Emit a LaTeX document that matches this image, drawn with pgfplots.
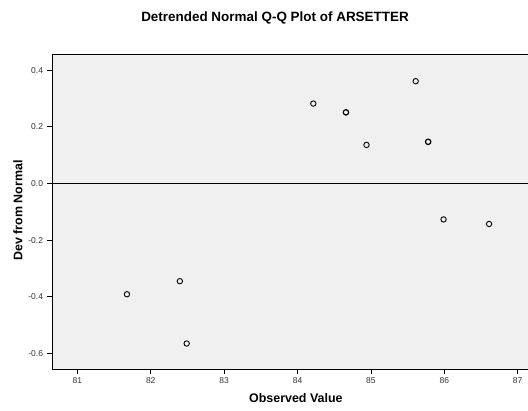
\documentclass[border=0pt]{standalone}
\usepackage{fontspec}
\setmainfont{Liberation Sans}
\usepackage{pgfplots}
\pgfplotsset{compat=1.18}
\definecolor{bgc}{HTML}{F0F0F0}
\definecolor{tickc}{HTML}{333333}
\begin{document}
\begin{tikzpicture}[x=1bp,y=1bp]
\path[use as bounding box] (0,0) rectangle (528,410);
\begin{axis}[
  at={(52bp,41bp)}, anchor=south west,
  scale only axis, width=480bp, height=315bp,
  xmin=80.655, xmax=87.195, ymin=-0.655, ymax=0.457,
  axis background/.style={fill=bgc},
  axis line style={line width=1bp, black},
  xtick={81,82,83,84,85,86,87},
  ytick={-0.6,-0.4,-0.2,0,0.2,0.4},
  yticklabels={-0.6,-0.4,-0.2,0.0,0.2,0.4},
  xtick pos=bottom, ytick pos=left,
  tick align=outside,
  major tick length=5bp,
  every tick/.style={black, line width=0.8bp},
  /pgf/number format/assume math mode=true,
  ticklabel style={font=\fontsize{8.5}{9}\selectfont, text=tickc},
  xticklabel style={yshift=-0.5bp},
  yticklabel style={xshift=-0.5bp},
  title={Detrended Normal Q-Q Plot of ARSETTER},
  title style={font=\bfseries\fontsize{13.5}{15}\selectfont, at={(axis description cs:0.4646,1.095)}, anchor=center},
  xlabel={Observed Value},
  xlabel style={font=\bfseries\fontsize{12.5}{14}\selectfont, at={(axis description cs:0.508,-0.092)}, anchor=center},
  ylabel={Dev from Normal},
  ylabel style={font=\bfseries\fontsize{12.5}{14}\selectfont, at={(axis description cs:-0.0708,0.503)}, anchor=center, rotate=0},
  clip=false,
]
\addplot[black, line width=1bp, forget plot] coordinates {(80.655,0) (87.195,0)};
\addplot[only marks, mark=o, mark size=2.7bp, mark options={draw=black, line width=0.9bp}] coordinates {
(81.676,-0.391)
(82.397,-0.345)
(82.49,-0.565)
(84.215,0.282)
(84.66,0.251)
(84.66,0.251)
(84.94,0.136)
(85.61,0.361)
(85.78,0.147)
(85.78,0.147)
(85.99,-0.127)
(86.61,-0.143)
};
\end{axis}
\end{tikzpicture}
\end{document}
